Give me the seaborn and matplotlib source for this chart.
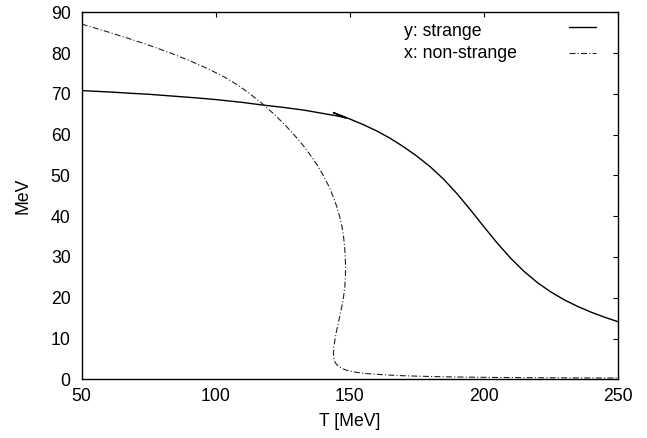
import matplotlib
matplotlib.use("Agg")
import matplotlib.pyplot as plt
import seaborn as sns
import pandas as pd

# ---- data ----
strange_T = [50, 56, 62, 68, 75, 81, 87, 93, 100, 105, 110, 117, 121, 125, 129,
             133, 136.5, 140, 143, 146, 148.6,
             146, 143.9,
             145.9, 150, 155, 160, 165, 170, 175, 180, 185, 190, 195, 200,
             205, 210, 215, 220, 225, 230, 235, 240, 245, 250]
strange_M = [70.8, 70.6, 70.4, 70.15, 69.9, 69.6, 69.3, 69.0, 68.6, 68.25, 67.9, 67.3, 67.0, 66.7, 66.35,
             66.0, 65.6, 65.2, 64.85, 64.5, 64.1,
             64.8, 65.4,
             64.9, 63.85, 62.48, 60.93, 59.15, 57.07, 54.75, 52.15, 49.1, 45.55, 41.6, 37.47,
             33.44, 29.74, 26.49, 23.74, 21.44, 19.51, 17.88, 16.48, 15.25, 14.15]

nonstrange_T = [50, 55.7, 60.7, 67.9, 74.8, 83.2, 90.8, 97.6, 103.6, 108.6,
                112.8, 117.55, 121.8, 125.7, 129.2, 132.45, 135.3, 137.9, 140.15, 142.1,
                143.7, 145.1, 146.2, 147.1, 147.7, 148.1, 148.35, 148.45, 148.4, 148.15,
                147.65, 146.95, 146.15, 145.3, 144.55, 144.1, 143.95, 144.0, 144.3, 144.9,
                145.8, 147.0, 148.5, 150.2, 152.5, 155.5, 159.5, 164, 169, 176,
                185, 195, 205, 217, 233, 250]
nonstrange_M = [87.1, 86, 85, 83.5, 82, 80, 78, 76, 74, 72,
                70, 67.5, 65, 62.5, 60, 57.5, 55, 52.5, 50, 47.5,
                45, 42.5, 40, 37.5, 35, 32.5, 30, 27.5, 25, 22.5,
                20, 17.5, 15, 12.5, 10, 8, 6.5, 5.3, 4.5, 3.8,
                3.2, 2.7, 2.3, 2.0, 1.7, 1.45, 1.25, 1.06, 0.9, 0.75,
                0.62, 0.52, 0.45, 0.4, 0.35, 0.32]

labels = ["y: strange", "x: non-strange"]
x_ticks = [50, 100, 150, 200, 250]
y_ticks = [0, 10, 20, 30, 40, 50, 60, 70, 80, 90]

df_s = pd.DataFrame({"T": strange_T, "M": strange_M})
df_n = pd.DataFrame({"T": nonstrange_T, "M": nonstrange_M})

sns.set_theme(style="white")
plt.rcParams["font.family"] = ["Liberation Sans", "DejaVu Sans"]
plt.rcParams["lines.scale_dashes"] = False

fig = plt.figure(figsize=(6.47, 4.38), dpi=100)
ax = fig.add_axes([81.7 / 647, 1 - 379.3 / 438, (617.7 - 81.7) / 647, (379.3 - 12.3) / 438])

sns.lineplot(data=df_s, x="T", y="M", sort=False, estimator=None, ax=ax,
             color="black", linewidth=1.0, legend=False)
sns.lineplot(data=df_n, x="T", y="M", sort=False, estimator=None, ax=ax,
             color="#222222", linewidth=0.8, legend=False)
l_s, l_n = ax.get_lines()[0], ax.get_lines()[1]
l_n.set_dashes((4.3, 1.6, 0.8, 1.6))

ax.set_xlim(50, 250)
ax.set_ylim(0, 90)
ax.set_xticks(x_ticks)
ax.set_yticks(y_ticks)
ax.tick_params(direction="in", length=3.8, width=0.8, top=True, right=True,
               labelsize=12.7, colors="black")
ax.tick_params(axis="x", pad=6)
ax.tick_params(axis="y", pad=8)
for sp in ax.spines.values():
    sp.set_visible(True)
    sp.set_color("black")
    sp.set_linewidth(1.0)

ax.set_xlabel("T [MeV]", fontsize=12.7, color="black", labelpad=6)
ax.set_ylabel("MeV", fontsize=12.7, color="black", labelpad=14)

# key: text left, line sample right (gnuplot style)
leg = ax.legend(handles=[l_s, l_n], labels=["", ""], loc="upper left",
                bbox_to_anchor=((569 - 81.7) / 536, (379.3 - 20) / 367),
                frameon=False, handlelength=1.55, handletextpad=0.0,
                borderpad=0.0, borderaxespad=0.0, labelspacing=0.52,
                fontsize=12.7)
ax.text((404 - 81.7) / 536, (379.3 - 32) / 367, labels[0], transform=ax.transAxes,
        fontsize=12.7, va="center", ha="left", color="black")
ax.text((404 - 81.7) / 536, (379.3 - 54) / 367, labels[1], transform=ax.transAxes,
        fontsize=12.7, va="center", ha="left", color="black")

fig.savefig("out.png", dpi=100)
